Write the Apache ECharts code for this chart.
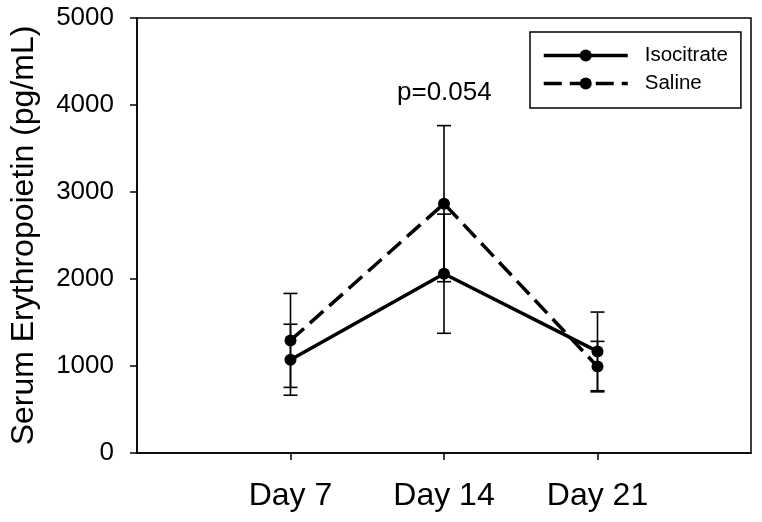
<!DOCTYPE html>
<html>
<head>
<meta charset="utf-8">
<script src="https://cdn.jsdelivr.net/npm/echarts@6/dist/echarts.min.js"></script>
<style>
html,body{margin:0;padding:0;background:#fff;}
#chart{width:762px;height:522px;}
</style>
</head>
<body>
<div id="chart"></div>
<script>
var dayValues = [7, 14, 21];
var dayLabels = ['Day 7', 'Day 14', 'Day 21'];
var isocitrateMean = [1072, 2061, 1168];
var isocitrateErr = [408, 685, 452];
var salineMean = [1294, 2866, 993];
var salineErr = [540, 897, 290];
var yTicks = [0, 1000, 2000, 3000, 4000, 5000];
var annotationText = 'p=0.054';

var FONT = '"Liberation Sans", Arial, sans-serif';

function pts(means) {
  return dayValues.map(function (d, i) { return [d, means[i]]; });
}
function errData(means, errs) {
  return dayValues.map(function (d, i) { return [d, means[i] - errs[i], means[i] + errs[i]]; });
}
function errRender(params, api) {
  var x = api.value(0);
  var lo = api.coord([x, api.value(1)]);
  var hi = api.coord([x, api.value(2)]);
  var w = 7;
  var st = { stroke: '#000', lineWidth: 1.6 };
  return {
    type: 'group',
    children: [
      { type: 'line', shape: { x1: lo[0], y1: lo[1], x2: hi[0], y2: hi[1] }, style: st },
      { type: 'line', shape: { x1: hi[0] - w, y1: hi[1], x2: hi[0] + w, y2: hi[1] }, style: st },
      { type: 'line', shape: { x1: lo[0] - w, y1: lo[1], x2: lo[0] + w, y2: lo[1] }, style: st }
    ]
  };
}

var chart = echarts.init(document.getElementById('chart'), null, { renderer: 'canvas' });
chart.setOption({
  animation: false,
  backgroundColor: '#fff',
  textStyle: { fontFamily: FONT, color: '#000' },
  grid: { left: 133, right: 11, top: 18, bottom: 69, show: true, borderColor: '#000', borderWidth: 1.5, containLabel: false },
  xAxis: {
    type: 'value', min: 0, max: 28, interval: 7,
    splitLine: { show: false },
    axisLine: { lineStyle: { color: '#000', width: 1.5 } },
    axisTick: { customValues: dayValues, length: 7, inside: false, lineStyle: { color: '#000', width: 1.5 } },
    axisLabel: {
      customValues: dayValues,
      margin: 27, fontSize: 32, color: '#000', fontFamily: FONT,
      formatter: function (v) { var i = dayValues.indexOf(v); return i >= 0 ? dayLabels[i] : ''; }
    }
  },
  yAxis: {
    type: 'value', min: yTicks[0], max: yTicks[yTicks.length - 1], interval: 1000,
    splitLine: { show: false },
    name: 'Serum Erythropoietin (pg/mL)',
    nameLocation: 'middle', nameGap: 97,
    nameTextStyle: { fontSize: 32, color: '#000', fontFamily: FONT },
    axisLine: { show: true, lineStyle: { color: '#000', width: 1.5 } },
    axisTick: { show: true, length: 7, lineStyle: { color: '#000', width: 1.5 } },
    axisLabel: { margin: 23, fontSize: 26, color: '#000', fontFamily: FONT, formatter: function (v) { return String(v); } }
  },
  legend: {
    orient: 'vertical', left: 530, top: 32,
    padding: [13, 13, 14, 12],
    itemWidth: 84, itemHeight: 15, itemGap: 7,
    borderColor: '#000', borderWidth: 1.5,
    lineStyle: { width: 3.5 },
    textStyle: { fontSize: 20.5, color: '#000', fontFamily: FONT, padding: [0, 0, 0, 12] },
    data: ['Isocitrate', 'Saline']
  },
  graphic: [{
    type: 'text', left: 397, top: 80,
    style: { text: annotationText, fontSize: 26, fill: '#000', fontFamily: FONT }
  }],
  series: [
    {
      name: 'Isocitrate', type: 'line', data: pts(isocitrateMean),
      symbol: 'circle', symbolSize: 12, z: 3,
      lineStyle: { color: '#000', width: 3.5, type: 'solid' },
      itemStyle: { color: '#000' }
    },
    {
      name: 'Saline', type: 'line', data: pts(salineMean),
      symbol: 'circle', symbolSize: 12, z: 3,
      lineStyle: { color: '#000', width: 3.5, type: [18, 8] },
      itemStyle: { color: '#000' }
    },
    { name: 'IsoErr', type: 'custom', renderItem: errRender, data: errData(isocitrateMean, isocitrateErr), z: 2, encode: { x: 0, y: [1, 2] } },
    { name: 'SalErr', type: 'custom', renderItem: errRender, data: errData(salineMean, salineErr), z: 2, encode: { x: 0, y: [1, 2] } }
  ]
});
</script>
</body>
</html>
